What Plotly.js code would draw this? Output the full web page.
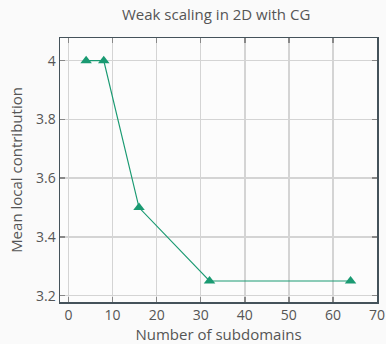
<!DOCTYPE html>
<html><head><meta charset="utf-8">
<script src="https://cdn.plot.ly/plotly-3.0.1.min.js"></script>
<style>html,body{margin:0;padding:0;background:#fafafa}</style>
</head><body>
<div id="chart" style="width:386px;height:344px"></div>
<script>
var subdomains = [4, 8, 16, 32, 64];
var meanLocal = [4, 4, 3.5, 3.25, 3.25];
var xTicks = [0, 10, 20, 30, 40, 50, 60, 70];
var yTicks = [3.2, 3.4, 3.6, 3.8, 4];

var trace = {
  x: subdomains, y: meanLocal, type: 'scatter', mode: 'lines+markers',
  line: {color: '#1a9a72', width: 1.2},
  marker: {symbol: 'triangle-up', size: 10, color: '#1a9a72'}
};
var fontFam = '"Open Sans", "Noto Sans", sans-serif';
var layout = {
  width: 386, height: 344,
  paper_bgcolor: '#fafafa', plot_bgcolor: '#fcfcfc',
  margin: {l: 60, r: 9, t: 38, b: 42},
  showlegend: false,
  font: {family: fontFam, color: '#555', size: 13},
  title: {text: 'Weak scaling in 2D with CG', x: 0.56, xanchor: 'center', y: 0.958, yanchor: 'middle', font: {size: 15, color: '#555', family: fontFam}},
  xaxis: {
    range: [-1.93, 70], tickvals: xTicks, ticktext: xTicks.map(String),
    showgrid: true, gridcolor: '#d4d4d4', gridwidth: 1.5, zeroline: false,
    showline: true, linecolor: '#44525a', linewidth: 1.5, mirror: 'ticks',
    ticks: 'inside', ticklen: 5, tickcolor: '#888', tickwidth: 1.5,
    tickfont: {size: 14, color: '#555'},
    title: {text: 'Number of subdomains', font: {size: 15, color: '#555'}, standoff: 4}
  },
  yaxis: {
    range: [3.1786, 4.077], tickvals: yTicks, ticktext: yTicks.map(String),
    showgrid: true, gridcolor: '#d4d4d4', gridwidth: 1.5, zeroline: false,
    showline: true, linecolor: '#44525a', linewidth: 1.5, mirror: 'ticks',
    ticks: 'inside', ticklen: 5, tickcolor: '#888', tickwidth: 1.5,
    tickfont: {size: 14, color: '#555'},
    title: {text: 'Mean local contribution', font: {size: 15, color: '#555'}, standoff: 10}
  }
};
Plotly.newPlot('chart', [trace], layout, {displayModeBar: false, staticPlot: true});
</script>
</body></html>
